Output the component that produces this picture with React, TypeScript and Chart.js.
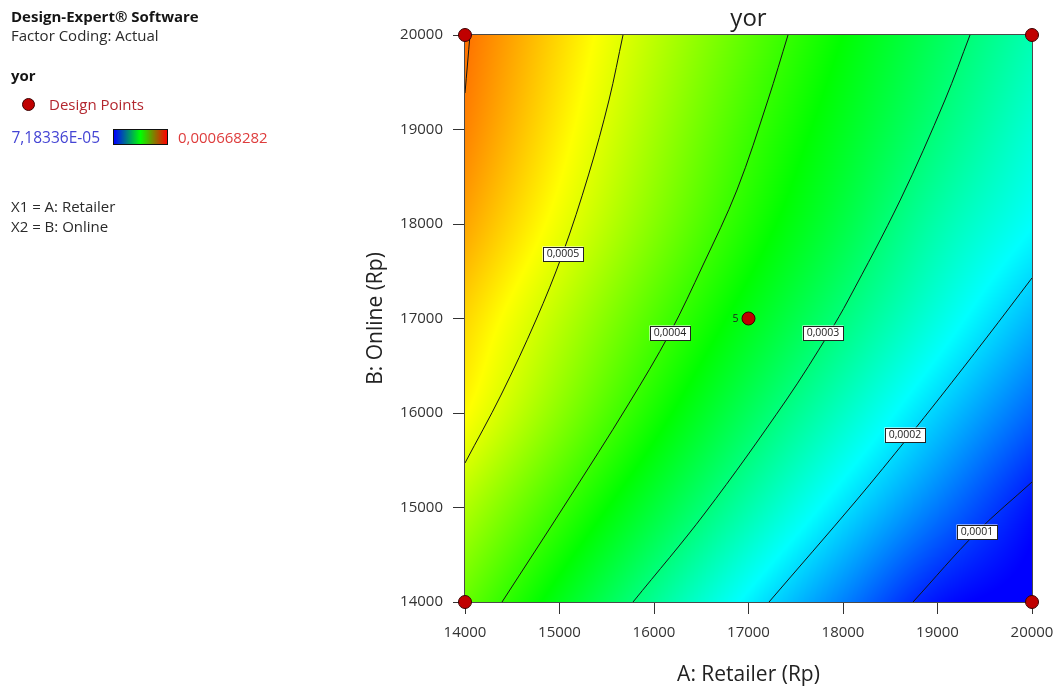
import { useEffect, useRef } from "react";
import { Chart, registerables } from "chart.js";

Chart.register(...registerables);

const FONT = '"Open Sans", "Noto Sans", sans-serif';

// Axis ticks (Rp)
const xTicks = [14000, 15000, 16000, 17000, 18000, 19000, 20000];
const yTicks = [14000, 15000, 16000, 17000, 18000, 19000, 20000];

// Predicted yor on the factor grid: rows follow B (Online), columns follow A (Retailer)
const gridA = [14000, 15000, 16000, 17000, 18000, 19000, 20000];
const gridB = [14000, 15000, 16000, 17000, 18000, 19000, 20000];
const yorAtB14000 = [0.000429, 0.000356, 0.000284, 0.000214, 0.000148, 0.0000831, 0.00006];
const yorAtB15000 = [0.000474, 0.000405, 0.000337, 0.00027, 0.000205, 0.000143, 0.000082];
const yorAtB16000 = [0.000521, 0.000451, 0.000383, 0.000317, 0.000255, 0.000193, 0.000132];
const yorAtB17000 = [0.000543, 0.00048, 0.000417, 0.000356, 0.000297, 0.000238, 0.000179];
const yorAtB18000 = [0.000572, 0.00051, 0.000448, 0.000387, 0.00033, 0.00027, 0.000222];
const yorAtB19000 = [0.000592, 0.000529, 0.000466, 0.000406, 0.000352, 0.000298, 0.000245];
const yorAtB20000 = [0.000603, 0.000542, 0.000481, 0.000424, 0.00037, 0.000318, 0.000266];
const yorGrid = [yorAtB14000, yorAtB15000, yorAtB16000, yorAtB17000, yorAtB18000, yorAtB19000, yorAtB20000];

// Colour scale limits
const yorMin = 7.18336e-5;
const yorMax = 0.000668282;

// Contour lines (A, B)
const contour0006 = [
  { x: 14053, y: 20000 },
  { x: 14000, y: 19386 },
];
const contour0005 = [
  { x: 15672, y: 20000 },
  { x: 15524, y: 19312 },
  { x: 15307, y: 18519 },
  { x: 15032, y: 17683 },
  { x: 14751, y: 16984 },
  { x: 14381, y: 16190 },
  { x: 14000, y: 15471 },
];
const contour0004 = [
  { x: 17418, y: 20000 },
  { x: 17206, y: 19312 },
  { x: 16878, y: 18360 },
  { x: 16519, y: 17566 },
  { x: 16169, y: 16847 },
  { x: 15725, y: 16085 },
  { x: 15090, y: 15079 },
  { x: 14392, y: 14000 },
];
const contour0003 = [
  { x: 19344, y: 20000 },
  { x: 19079, y: 19312 },
  { x: 18606, y: 18254 },
  { x: 18056, y: 17196 },
  { x: 17854, y: 16847 },
  { x: 17400, y: 16138 },
  { x: 16540, y: 14942 },
  { x: 15778, y: 14000 },
];
const contour0002 = [
  { x: 20000, y: 17429 },
  { x: 19517, y: 16794 },
  { x: 19022, y: 16159 },
  { x: 18692, y: 15746 },
  { x: 18145, y: 15079 },
  { x: 17217, y: 14000 },
];
const contour0001 = [
  { x: 20000, y: 15270 },
  { x: 19418, y: 14741 },
  { x: 18741, y: 14000 },
];
const contourLines = [contour0006, contour0005, contour0004, contour0003, contour0002, contour0001];

// Contour level tags
const contourLabels = [
  { text: "0,0005", x: 15037, y: 17683 },
  { text: "0,0004", x: 16169, y: 16847 },
  { text: "0,0003", x: 17788, y: 16847 },
  { text: "0,0002", x: 18656, y: 15767 },
  { text: "0,0001", x: 19418, y: 14741 },
];

// Design points; the centre point carries its replicate count
const designPoints = [
  { x: 14000, y: 14000 },
  { x: 20000, y: 14000 },
  { x: 14000, y: 20000 },
  { x: 20000, y: 20000 },
  { x: 17000, y: 17000 },
];
const centreRuns = "5";

const colourStops = [
  [0, 0, 255],
  [0, 255, 255],
  [0, 255, 0],
  [255, 255, 0],
  [255, 0, 0],
];

function colourFor(v: number): number[] {
  let t = (v - yorMin) / (yorMax - yorMin);
  t = Math.max(0, Math.min(1, t));
  const s = t * (colourStops.length - 1);
  const i = Math.min(Math.floor(s), colourStops.length - 2);
  const f = s - i;
  const a = colourStops[i];
  const b = colourStops[i + 1];
  return [a[0] + (b[0] - a[0]) * f, a[1] + (b[1] - a[1]) * f, a[2] + (b[2] - a[2]) * f];
}

function gridValue(r: number, c: number): number {
  const m = yorGrid.length;
  const n = yorGrid[0].length;
  if (r < 0) return 2 * gridValue(0, c) - gridValue(1, c);
  if (r >= m) return 2 * gridValue(m - 1, c) - gridValue(m - 2, c);
  if (c < 0) return 2 * gridValue(r, 0) - gridValue(r, 1);
  if (c >= n) return 2 * gridValue(r, n - 1) - gridValue(r, n - 2);
  return yorGrid[r][c];
}

function catmull(p0: number, p1: number, p2: number, p3: number, t: number) {
  return p1 + 0.5 * t * (p2 - p0 + t * (2 * p0 - 5 * p1 + 4 * p2 - p3 + t * (3 * (p1 - p2) + p3 - p0)));
}

function surfaceAt(a: number, b: number): number {
  const fx = (a - gridA[0]) / (gridA[1] - gridA[0]);
  const fy = (b - gridB[0]) / (gridB[1] - gridB[0]);
  const ix = Math.min(Math.max(Math.floor(fx), 0), gridA.length - 2);
  const iy = Math.min(Math.max(Math.floor(fy), 0), gridB.length - 2);
  const tx = fx - ix;
  const ty = fy - iy;
  const rows: number[] = [];
  for (let k = -1; k <= 2; k++) {
    const r = iy + k;
    rows.push(
      catmull(gridValue(r, ix - 1), gridValue(r, ix), gridValue(r, ix + 1), gridValue(r, ix + 2), tx)
    );
  }
  return catmull(rows[0], rows[1], rows[2], rows[3], ty);
}

// Filled colour surface behind the contour lines, plus the plot frame
const surfacePlugin = {
  id: "yorSurface",
  beforeDatasetsDraw(chart: any) {
    const { ctx, chartArea: area, scales } = chart;
    const xs = scales.x;
    const ys = scales.y;
    const w = Math.round(area.right - area.left);
    const h = Math.round(area.bottom - area.top);
    const off = document.createElement("canvas");
    off.width = w;
    off.height = h;
    const octx = off.getContext("2d")!;
    const img = octx.createImageData(w, h);
    const xv: number[] = [];
    for (let i = 0; i < w; i++) xv.push(xs.getValueForPixel(area.left + i + 0.5));
    for (let j = 0; j < h; j++) {
      const yv = ys.getValueForPixel(area.top + j + 0.5);
      for (let i = 0; i < w; i++) {
        const c = colourFor(surfaceAt(xv[i], yv));
        const k = (j * w + i) * 4;
        img.data[k] = c[0];
        img.data[k + 1] = c[1];
        img.data[k + 2] = c[2];
        img.data[k + 3] = 255;
      }
    }
    octx.putImageData(img, 0, 0);
    ctx.save();
    ctx.drawImage(off, area.left, area.top);
    ctx.strokeStyle = "#4a4a4a";
    ctx.lineWidth = 1;
    ctx.strokeRect(area.left - 0.5, area.top - 0.5, w + 1, h + 1);
    ctx.restore();
  },
  afterDatasetsDraw(chart: any) {
    const { ctx, chartArea: area, scales } = chart;
    const xs = scales.x;
    const ys = scales.y;
    ctx.save();
    ctx.font = `10.5px ${FONT}`;
    ctx.textAlign = "center";
    ctx.textBaseline = "middle";
    for (const lab of contourLabels) {
      const px = Math.round(xs.getPixelForValue(lab.x));
      const py = Math.round(ys.getPixelForValue(lab.y));
      const tw = ctx.measureText(lab.text).width;
      const bw = Math.round(tw + 8);
      const bh = 15;
      ctx.fillStyle = "#ffffff";
      ctx.fillRect(px - bw / 2, py - bh / 2, bw, bh);
      ctx.strokeStyle = "#222222";
      ctx.lineWidth = 1;
      ctx.strokeRect(Math.round(px - bw / 2) + 0.5, Math.round(py - bh / 2) + 0.5, bw - 1, bh - 1);
      ctx.fillStyle = "#222222";
      ctx.fillText(lab.text, px, py + 0.5);
    }
    const centre = designPoints[4];
    ctx.textAlign = "right";
    ctx.fillStyle = "#222222";
    ctx.fillText(
      centreRuns,
      xs.getPixelForValue(centre.x) - 10,
      ys.getPixelForValue(centre.y) + 0.5
    );
    // plot title
    ctx.font = `24px ${FONT}`;
    ctx.textAlign = "center";
    ctx.textBaseline = "alphabetic";
    ctx.fillStyle = "#222222";
    ctx.fillText("yor", (area.left + area.right) / 2, 26);
    ctx.restore();
  },
};

export default function App() {
  const canvasRef = useRef<HTMLCanvasElement | null>(null);

  useEffect(() => {
    const canvas = canvasRef.current;
    if (!canvas) return;

    const lineSets = contourLines.map((pts) => ({
      type: "scatter" as const,
      data: pts,
      showLine: true,
      pointRadius: 0,
      pointHoverRadius: 0,
      borderColor: "#141414",
      borderWidth: 1,
      tension: 0.35,
      fill: false,
    }));

    const chart = new Chart(canvas, {
      type: "scatter",
      data: {
        datasets: [
          {
            data: designPoints,
            pointRadius: 6.5,
            pointHoverRadius: 6.5,
            pointBackgroundColor: "#c00000",
            pointBorderColor: "#3a0000",
            pointBorderWidth: 1,
            showLine: false,
            clip: false,
          } as any,
          ...lineSets,
        ],
      },
      options: {
        animation: false,
        responsive: false,
        events: [],
        layout: { padding: { left: 360, top: 35, right: 26, bottom: 0 } },
        plugins: {
          legend: { display: false },
          tooltip: { enabled: false },
          title: { display: false },
        },
        scales: {
          x: {
            type: "linear",
            position: "bottom",
            min: 14000,
            max: 20000,
            afterBuildTicks: (s: any) => {
              s.ticks = xTicks.map((v) => ({ value: v }));
            },
            afterFit: (s: any) => {
              s.height = 87;
              s.paddingLeft = 0;
              s.paddingRight = 0;
            },
            ticks: {
              autoSkip: false,
              maxRotation: 0,
              padding: 10,
              color: "#333333",
              font: { family: FONT, size: 15 },
              callback: (v: any) => String(v),
            },
            grid: { drawOnChartArea: false, drawTicks: true, tickLength: 12, color: "#333333" },
            border: { display: false },
            title: {
              display: true,
              text: "A: Retailer (Rp)",
              color: "#222222",
              font: { family: FONT, size: 21 },
              padding: { top: 0, bottom: 1.5 },
            },
          },
          y: {
            type: "linear",
            position: "left",
            min: 14000,
            max: 20000,
            afterBuildTicks: (s: any) => {
              s.ticks = yTicks.map((v) => ({ value: v }));
            },
            afterFit: (s: any) => {
              s.width = 105;
              s.paddingTop = 0;
              s.paddingBottom = 0;
            },
            ticks: {
              autoSkip: false,
              padding: 10,
              color: "#333333",
              font: { family: FONT, size: 15 },
              callback: (v: any) => String(v),
            },
            grid: { drawOnChartArea: false, drawTicks: true, tickLength: 12, color: "#333333" },
            border: { display: false },
            title: {
              display: true,
              text: "B: Online (Rp)",
              color: "#222222",
              font: { family: FONT, size: 21 },
              padding: { top: 3.5, bottom: 0 },
            },
          },
        },
      },
      plugins: [surfacePlugin],
    });

    return () => chart.destroy();
  }, []);

  const text = (top: number, left: number, extra: any = {}) => ({
    position: "absolute" as const,
    top,
    left,
    fontFamily: FONT,
    fontSize: 15,
    lineHeight: "15px",
    whiteSpace: "nowrap" as const,
    color: "#2a2a2a",
    ...extra,
  });

  return (
    <div
      style={{
        position: "fixed",
        left: 0,
        top: 0,
        width: 1058,
        height: 689,
        background: "#ffffff",
        overflow: "hidden",
      }}
    >
      <canvas ref={canvasRef} width={1058} height={689} style={{ display: "block" }} />
      <div style={text(8.7, 11, { fontWeight: 700, color: "#151515" })}>Design-Expert® Software</div>
      <div style={text(28.4, 11)}>Factor Coding: Actual</div>
      <div style={text(68.4, 11, { fontWeight: 700, color: "#151515" })}>yor</div>
      <div
        style={{
          position: "absolute",
          left: 21.5,
          top: 97.5,
          width: 11,
          height: 11,
          borderRadius: "50%",
          background: "#c00000",
          border: "1px solid #3a0000",
        }}
      />
      <div style={text(96.7, 49, { color: "#b3262e" })}>Design Points</div>
      <div style={text(130, 11.5, { color: "#4444d4", fontSize: 15.5 })}>7,18336E-05</div>
      <div
        style={{
          position: "absolute",
          left: 113,
          top: 129,
          width: 53,
          height: 14,
          border: "1px solid #111111",
          background: "linear-gradient(to right, #0000ff, #00ff00, #ff0000)",
        }}
      />
      <div style={text(130, 178, { color: "#de3c3c" })}>0,000668282</div>
      <div style={text(199, 11)}>X1 = A: Retailer</div>
      <div style={text(219, 11)}>X2 = B: Online</div>
    </div>
  );
}
